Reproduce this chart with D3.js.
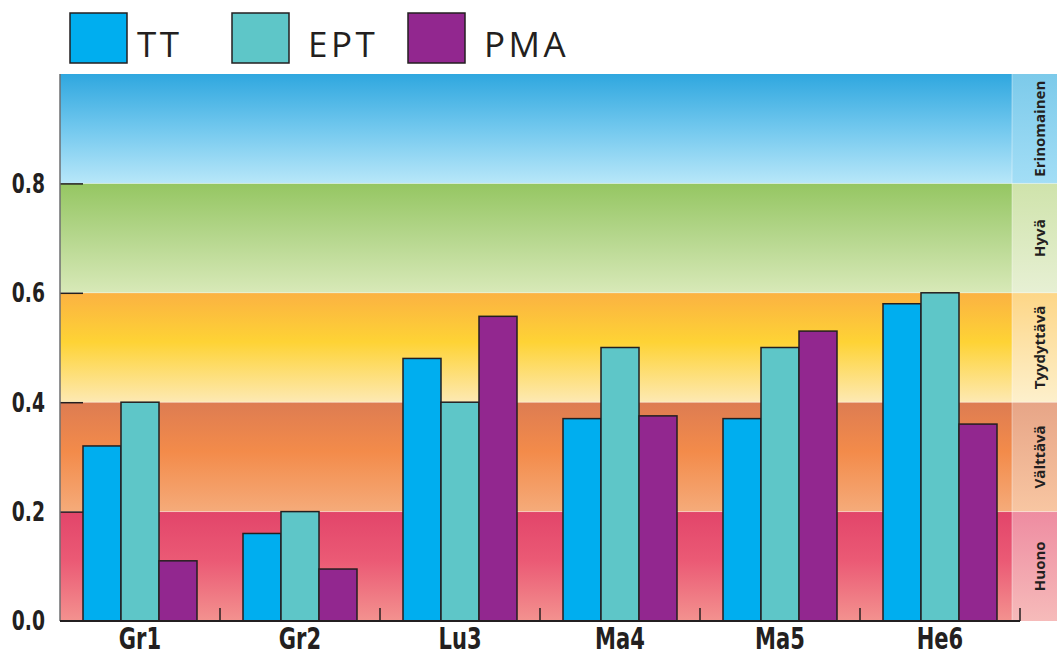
<!DOCTYPE html>
<html>
<head>
<meta charset="utf-8">
<script src="https://cdn.jsdelivr.net/npm/d3@7"></script>
<style>
  body { margin: 0; background: #fff; }
  svg { display: block; }
</style>
</head>
<body>
<svg id="chart"></svg>
<script>
// sites and series
const categories = ["Gr1", "Gr2", "Lu3", "Ma4", "Ma5", "He6"]
const series = ["TT", "EPT", "PMA"]
const ttValues  = [0.32, 0.16, 0.48, 0.37, 0.37, 0.58]
const eptValues = [0.40, 0.20, 0.40, 0.50, 0.50, 0.60]
const pmaValues = [0.11, 0.095, 0.557, 0.375, 0.53, 0.36]
const yTicks = [0.0, 0.2, 0.4, 0.6, 0.8]
const classNames = ["Huono", "Välttävä", "Tyydyttävä", "Hyvä", "Erinomainen"]
const classEdges = [0, 0.2, 0.4, 0.6, 0.8, 1.0]

const seriesColor = { TT: "#00aeef", EPT: "#5ec6c8", PMA: "#92278f" }

// gradient stops, top to bottom, for the plot bands and the side column
const bandStops = {
    "Erinomainen": [["0%", "#2fa7df"], ["50%", "#72c8ee"], ["100%", "#b8e7f9"]],
    "Hyvä":        [["0%", "#95c662"], ["50%", "#b6d78e"], ["100%", "#d8e9b8"]],
    "Tyydyttävä":  [["0%", "#fbb242"], ["45%", "#fed335"], ["100%", "#fde9b3"]],
    "Välttävä":    [["0%", "#dd7c52"], ["45%", "#f38b4a"], ["100%", "#f5ab7a"]],
    "Huono":       [["0%", "#e2456a"], ["45%", "#eb5a75"], ["100%", "#f3928f"]]
}
const sideStops = {
    "Erinomainen": [["0%", "#7ccaea"], ["100%", "#a3def6"]],
    "Hyvä":        [["0%", "#cfe3ab"], ["100%", "#e7f0d4"]],
    "Tyydyttävä":  [["0%", "#fdd687"], ["100%", "#fdf0cc"]],
    "Välttävä":    [["0%", "#e7a587"], ["100%", "#f8c6a2"]],
    "Huono":       [["0%", "#ee8ca1"], ["100%", "#f6bbba"]]
}

const data = categories.map((c, i) => ({
    cat: c,
    TT: ttValues[i],
    EPT: eptValues[i],
    PMA: pmaValues[i]
}))

const svgWidth = 1057, svgHeight = 656
const plotLeft = 60, plotRight = 1012, axisRight = 1020, plotTop = 74, plotBottom = 621
const narrowFont = "'Liberation Sans Narrow', 'DejaVu Sans Condensed', sans-serif"

const svg = d3.select("#chart")
    .attr("width", svgWidth)
    .attr("height", svgHeight)

const y = d3.scaleLinear().domain([0, 1]).range([plotBottom, plotTop])
const x0 = d3.scaleBand().domain(categories).range([plotLeft, axisRight]).padding(0)
const x1 = d3.scaleBand().domain(series).range([23, 137]).padding(0)

const defs = svg.append("defs")
function addGradient(id, stops) {
    const g = defs.append("linearGradient")
        .attr("id", id)
        .attr("x1", 0).attr("y1", 0).attr("x2", 0).attr("y2", 1)
    stops.forEach(s => g.append("stop").attr("offset", s[0]).attr("stop-color", s[1]))
}
classNames.forEach((n, i) => {
    addGradient("band" + i, bandStops[n])
    addGradient("side" + i, sideStops[n])
})

// quality bands
const bands = classNames.map((n, i) => ({ name: n, lo: classEdges[i], hi: classEdges[i + 1], i: i }))

svg.append("g").selectAll("rect")
    .data(bands)
    .join("rect")
    .attr("x", plotLeft)
    .attr("y", d => y(d.hi))
    .attr("width", plotRight - plotLeft)
    .attr("height", d => y(d.lo) - y(d.hi))
    .attr("fill", d => `url(#band${d.i})`)

const side = svg.append("g")
side.selectAll("rect")
    .data(bands)
    .join("rect")
    .attr("x", plotRight)
    .attr("y", d => y(d.hi))
    .attr("width", svgWidth - plotRight)
    .attr("height", d => y(d.lo) - y(d.hi))
    .attr("fill", d => `url(#side${d.i})`)

side.selectAll("text")
    .data(bands)
    .join("text")
    .attr("transform", d => `translate(${plotRight + 33}, ${(y(d.lo) + y(d.hi)) / 2}) rotate(-90)`)
    .attr("text-anchor", "middle")
    .attr("font-family", "'Open Sans', 'Noto Sans', sans-serif")
    .attr("font-weight", "bold")
    .attr("font-size", 15)
    .attr("fill", "#231f20")
    .text(d => d.name)

// faint band edges
svg.append("g").selectAll("line")
    .data(classEdges.slice(1, 5))
    .join("line")
    .attr("x1", plotLeft).attr("x2", svgWidth)
    .attr("y1", d => y(d)).attr("y2", d => y(d))
    .attr("stroke", "#ffffff")
    .attr("stroke-opacity", 0.35)
    .attr("stroke-width", 1)

svg.append("line")
    .attr("x1", plotRight).attr("x2", plotRight)
    .attr("y1", plotTop).attr("y2", plotBottom)
    .attr("stroke", "#ffffff")
    .attr("stroke-opacity", 0.4)

// bars
svg.append("g").selectAll("g")
    .data(data)
    .join("g")
    .attr("transform", d => `translate(${x0(d.cat)}, 0)`)
    .selectAll("rect")
    .data(d => series.map(s => ({ key: s, value: d[s] })))
    .join("rect")
    .attr("x", d => x1(d.key))
    .attr("y", d => y(d.value))
    .attr("width", x1.bandwidth())
    .attr("height", d => y(0) - y(d.value))
    .attr("fill", d => seriesColor[d.key])
    .attr("stroke", "#231f20")
    .attr("stroke-width", 1.5)

// y axis: inward ticks, big bold condensed labels
const yAxis = svg.append("g")
    .attr("transform", `translate(${plotLeft}, 0)`)
    .call(d3.axisRight(y).tickValues(yTicks.filter(t => t > 0)).tickSize(23).tickFormat(""))
yAxis.select(".domain").remove()
yAxis.selectAll(".tick line").attr("stroke", "#231f20").attr("stroke-width", 1.5)

svg.append("line")
    .attr("x1", plotLeft).attr("x2", plotLeft)
    .attr("y1", plotTop).attr("y2", plotBottom)
    .attr("stroke", "#6d6e71").attr("stroke-width", 1.5)

svg.append("g").selectAll("text")
    .data(yTicks)
    .join("text")
    .attr("transform", d => `translate(45, ${y(d)}) scale(0.8, 1)`)
    .attr("dy", "0.36em")
    .attr("text-anchor", "end")
    .attr("font-family", narrowFont)
    .attr("font-weight", "bold")
    .attr("font-size", 26)
    .attr("fill", "#231f20")
    .text(d => d3.format(".1f")(d))

// x axis with small upward ticks between groups
const xAxis = svg.append("g")
    .attr("transform", `translate(0, ${plotBottom})`)
xAxis.append("line")
    .attr("x1", plotLeft).attr("x2", axisRight)
    .attr("stroke", "#231f20").attr("stroke-width", 2)
xAxis.selectAll(".sep")
    .data(categories)
    .join("line")
    .attr("class", "sep")
    .attr("x1", d => x0(d) + x0.bandwidth())
    .attr("x2", d => x0(d) + x0.bandwidth())
    .attr("y1", 0).attr("y2", -13)
    .attr("stroke", "#231f20").attr("stroke-width", 1.5)
xAxis.selectAll("text")
    .data(categories)
    .join("text")
    .attr("transform", d => `translate(${x0(d) + x0.bandwidth() / 2}, 28) scale(0.78, 1)`)
    .attr("text-anchor", "middle")
    .attr("font-family", narrowFont)
    .attr("font-weight", "bold")
    .attr("font-size", 30)
    .attr("fill", "#231f20")
    .text(d => d)

// legend
const legendX = [70, 232, 408]
const legend = svg.append("g")
    .selectAll("g")
    .data(series)
    .join("g")
    .attr("transform", (d, i) => `translate(${legendX[i]}, 13)`)
legend.append("rect")
    .attr("width", 57)
    .attr("height", 50)
    .attr("fill", d => seriesColor[d])
    .attr("stroke", "#231f20")
    .attr("stroke-width", 1.5)
legend.append("text")
    .attr("x", (d, i) => i === 0 ? 67 : 76)
    .attr("y", 44)
    .attr("font-family", "'Open Sans', 'Noto Sans', sans-serif")
    .attr("font-size", 35)
    .attr("letter-spacing", 3.5)
    .attr("fill", "#231f20")
    .text(d => d)
</script>
</body>
</html>
